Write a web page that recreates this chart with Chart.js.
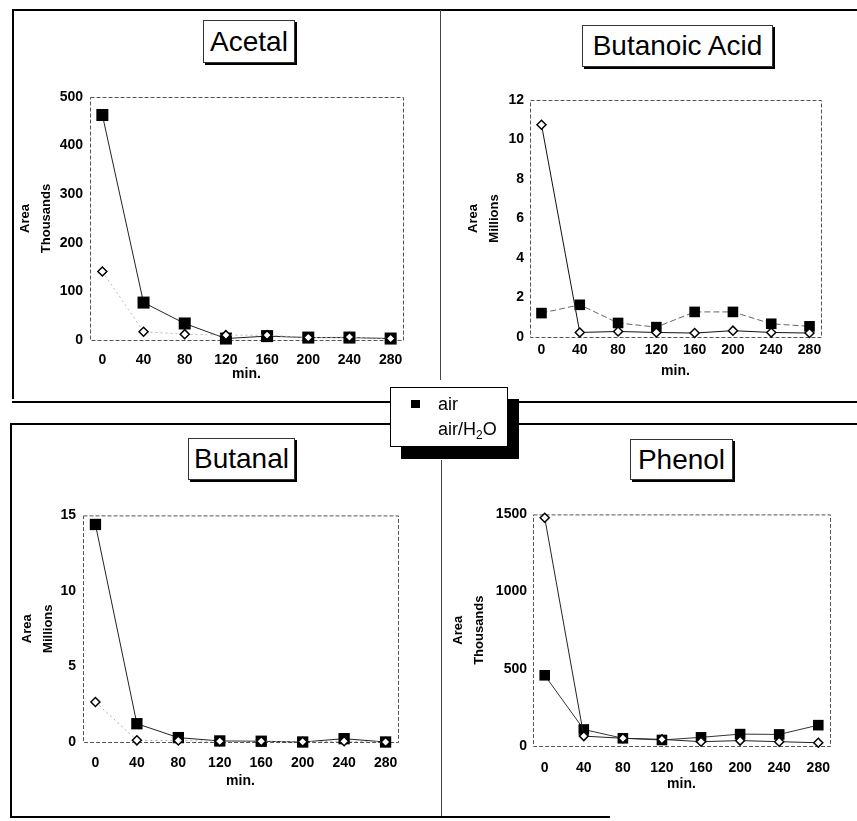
<!DOCTYPE html>
<html>
<head>
<meta charset="utf-8">
<title>Area vs. time</title>
<script src="https://cdn.jsdelivr.net/npm/chart.js@4.4.1/dist/chart.umd.min.js"></script>
<style>
  body { margin: 0; background: #fff; font-family: "Liberation Sans", Arial, sans-serif; }
  #page { position: relative; width: 857px; height: 821px; overflow: hidden; }
  .rule { position: absolute; background: #000; }
  .title {
    position: absolute; box-sizing: border-box; background: #fff;
    border: 1px solid #333; box-shadow: 2px 2px 0 #000;
    font-size: 28px; text-align: center; color: #000;
  }
  canvas { position: absolute; }
  #legend {
    position: absolute; left: 390px; top: 387px; width: 118px; height: 60px;
    box-sizing: border-box; border: 1px solid #000; background: #fff;
    box-shadow: 11px 12px 0 #000; font-size: 18px;
  }
  #legend .mark { position: absolute; left: 20px; top: 12px; width: 9px; height: 8px; background: #000; }
  #legend .txt { position: absolute; left: 47px; line-height: 18px; }
  #legend sub { font-size: 12px; vertical-align: -4px; line-height: 0; }
</style>
</head>
<body>
<div id="page">
  <!-- panel frames -->
  <div class="rule" style="left:12px; top:9px; width:845px; height:2px;"></div>
  <div class="rule" style="left:12px; top:9px; width:2px; height:390px;"></div>
  <div class="rule" style="left:440px; top:10px; width:1px; height:370px; background:#444;"></div>
  <div class="rule" style="left:12px; top:401px; width:845px; height:2px;"></div>
  <div class="rule" style="left:10px; top:423px; width:847px; height:2px;"></div>
  <div class="rule" style="left:10px; top:423px; width:2px; height:395px;"></div>
  <div class="rule" style="left:441px; top:460px; width:1px; height:357px; background:#444;"></div>
  <div class="rule" style="left:10px; top:816px; width:600px; height:2px;"></div>

  <canvas id="acetal" width="420" height="310" style="left:14px; top:80px;"></canvas>
  <canvas id="butanoic" width="390" height="310" style="left:462px; top:80px;"></canvas>
  <canvas id="butanal" width="420" height="300" style="left:16px; top:500px;"></canvas>
  <canvas id="phenol" width="410" height="300" style="left:447px; top:500px;"></canvas>

  <div class="title" style="left:203px; top:20px; width:92px; height:43px; line-height:41px;">Acetal</div>
  <div class="title" style="left:582px; top:25px; width:191px; height:42px; line-height:40px;">Butanoic Acid</div>
  <div class="title" style="left:188px; top:438px; width:107px; height:42px; line-height:40px;">Butanal</div>
  <div class="title" style="left:630px; top:439px; width:103px; height:41px; line-height:39px;">Phenol</div>

  <div id="legend">
    <div class="mark"></div>
    <div class="txt" style="top:7px;">air</div>
    <div class="txt" style="top:32px;">air/H<sub>2</sub>O</div>
  </div>
</div>

<script>
// data (x = minutes)
const minutes = [0, 40, 80, 120, 160, 200, 240, 280];
const seriesNames = ['air', 'air/H₂O'];

// Acetal, thousands
const acetalAir = [463, 77, 34, 3, 8, 5, 5, 3];
const acetalWet = [141, 17, 12, 10, 10, 5, 6, 3];
const acetalTicks = [0, 100, 200, 300, 400, 500];

// Butanoic acid, millions
const butanoicAir = [1.21, 1.63, 0.71, 0.5, 1.27, 1.27, 0.67, 0.54];
const butanoicWet = [10.75, 0.23, 0.28, 0.23, 0.2, 0.32, 0.23, 0.2];
const butanoicTicks = [0, 2, 4, 6, 8, 10, 12];

// Butanal, millions
const butanalAir = [14.4, 1.21, 0.29, 0.07, 0.05, 0.0, 0.22, 0.0];
const butanalWet = [2.65, 0.11, 0.1, 0.05, 0.05, 0.02, 0.05, 0.0];
const butanalTicks = [0, 5, 10, 15];

// Phenol, thousands
const phenolAir = [458, 107, 50, 39, 56, 77, 75, 135];
const phenolWet = [1478, 64, 50, 43, 28, 35, 28, 21];
const phenolTicks = [0, 500, 1000, 1500];

Chart.defaults.font.family = '"Liberation Sans", Arial, sans-serif';
Chart.defaults.color = '#000';

// dashed frame round the plot area
const plotFrame = {
  id: 'plotFrame',
  beforeDatasetsDraw(chart) {
    const { ctx, chartArea: a } = chart;
    ctx.save();
    ctx.strokeStyle = '#555';
    ctx.lineWidth = 1;
    ctx.setLineDash([4, 2]);
    ctx.strokeRect(a.left + 0.5, a.top + 0.5, a.right - a.left, a.bottom - a.top);
    ctx.restore();
  }
};

function makeChart(id, airData, wetData, yTicks, unit, box, look) {
  const ctx = document.getElementById(id).getContext('2d');
  const tickFont = { size: 14, weight: 'bold' };
  return new Chart(ctx, {
    type: 'line',
    data: {
      datasets: [
        {
          label: seriesNames[0],
          data: minutes.map((m, i) => ({ x: m, y: airData[i] })),
          order: 2,
          borderColor: look.airLine,
          borderDash: look.airDash,
          borderWidth: 1,
          pointStyle: 'rect',
          pointRadius: look.sq,
          pointBackgroundColor: '#000',
          pointBorderColor: '#000',
          pointBorderWidth: 0,
          clip: false
        },
        {
          label: seriesNames[1],
          data: minutes.map((m, i) => ({ x: m, y: wetData[i] })),
          order: 1,
          borderColor: look.wetLine,
          borderDash: look.wetDash,
          borderWidth: 1,
          pointStyle: 'rectRot',
          pointRadius: 4.5,
          pointBackgroundColor: '#fff',
          pointBorderColor: '#000',
          pointBorderWidth: 1.5,
          clip: false
        }
      ]
    },
    options: {
      responsive: false,
      animation: false,
      layout: { padding: { top: box.padTop, right: box.padRight, left: 0, bottom: 0 } },
      plugins: { legend: { display: false }, tooltip: { enabled: false } },
      scales: {
        x: {
          type: 'linear',
          min: -12,
          max: 292,
          grid: { display: false, drawTicks: false },
          border: { display: false },
          afterBuildTicks: s => { s.ticks = minutes.map(v => ({ value: v })); },
          afterFit: s => { s.height = box.xHeight; },
          ticks: { padding: box.xTickPad, font: tickFont, maxRotation: 0, autoSkip: false,
                   callback: v => String(v) },
          title: { display: true, text: 'min.', font: tickFont, padding: { top: 0, bottom: box.xTitlePad - 1 } }
        },
        y: {
          type: 'linear',
          min: yTicks[0],
          max: yTicks[yTicks.length - 1],
          grid: { display: false, drawTicks: false },
          border: { display: false },
          afterBuildTicks: s => { s.ticks = yTicks.map(v => ({ value: v })); },
          afterFit: s => { s.width = box.yWidth; },
          ticks: { padding: box.yTickPad, font: tickFont, callback: v => String(v) },
          title: {
            display: true,
            text: ['Area', unit],
            font: { size: 13, weight: 'bold', lineHeight: 1.6 },
            padding: { top: 1, bottom: 0 }
          }
        }
      }
    },
    plugins: [plotFrame]
  });
}

makeChart('acetal', acetalAir, acetalWet, acetalTicks, 'Thousands',
  { padTop: 17, padRight: 31, yWidth: 76, xHeight: 50, xTickPad: 12, yTickPad: 7, xTitlePad: 8 },
  { airLine: '#222', airDash: [], wetLine: '#bbb', wetDash: [2, 3], sq: 8.5 });

makeChart('butanoic', butanoicAir, butanoicWet, butanoicTicks, 'Millions',
  { padTop: 20, padRight: 31, yWidth: 68, xHeight: 53, xTickPad: 5, yTickPad: 6, xTitlePad: 11 },
  { airLine: '#666', airDash: [6, 3], wetLine: '#111', wetDash: [], sq: 7.5 });

makeChart('butanal', butanalAir, butanalWet, butanalTicks, 'Millions',
  { padTop: 15, padRight: 38, yWidth: 67, xHeight: 58, xTickPad: 13, yTickPad: 7, xTitlePad: 11 },
  { airLine: '#222', airDash: [], wetLine: '#aaa', wetDash: [2, 3], sq: 8 });

makeChart('phenol', phenolAir, phenolWet, phenolTicks, 'Thousands',
  { padTop: 13, padRight: 27, yWidth: 86, xHeight: 54, xTickPad: 14, yTickPad: 6, xTitlePad: 8 },
  { airLine: '#333', airDash: [], wetLine: '#222', wetDash: [], sq: 7.5 });
</script>
</body>
</html>
